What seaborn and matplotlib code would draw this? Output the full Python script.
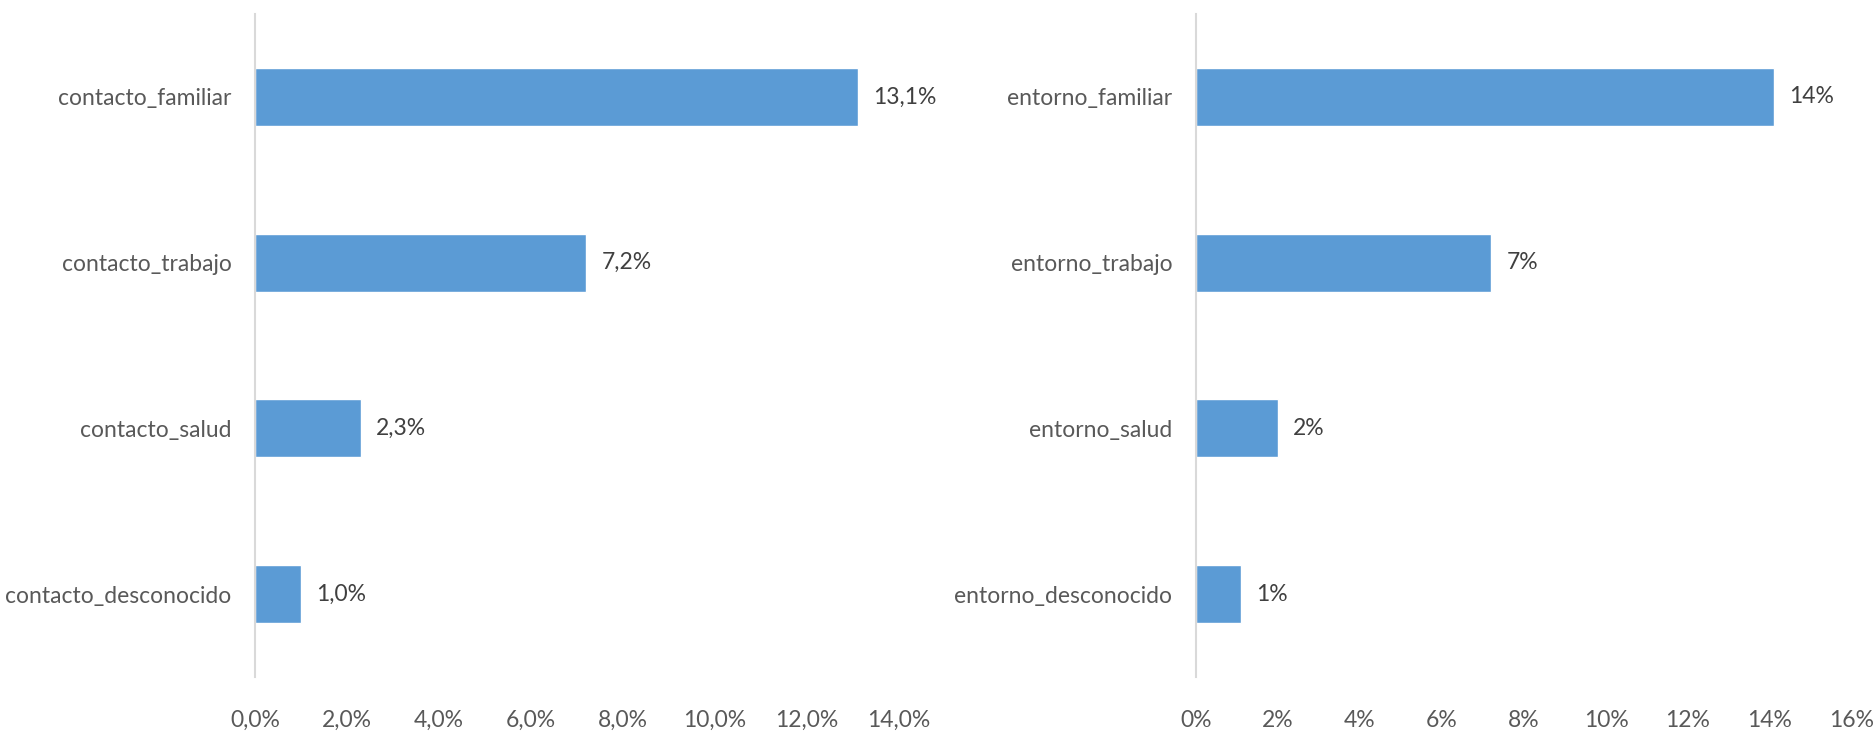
import matplotlib
matplotlib.use("Agg")
import matplotlib.pyplot as plt
import seaborn as sns
import pandas as pd

# Data
cat_left = ["contacto_familiar", "contacto_trabajo", "contacto_salud", "contacto_desconocido"]
val_left = [13.1, 7.2, 2.3, 1.0]
cat_right = ["entorno_familiar", "entorno_trabajo", "entorno_salud", "entorno_desconocido"]
val_right = [14.1, 7.2, 2.0, 1.1]
ticks_left = [0, 2, 4, 6, 8, 10, 12, 14]
ticks_right = [0, 2, 4, 6, 8, 10, 12, 14, 16]

sns.set_theme(style="white")
plt.rcParams['font.family'] = ['Lato', 'DejaVu Sans']

BAR = "#5B9BD5"
TXT = "#595959"
VAL = "#404040"
SPINE = "#D9D9D9"
FS = 16.5

fig = plt.figure(figsize=(18.75, 7.34), dpi=100)
ax1 = fig.add_axes([255/1875, 1-677/734, 644/1875, 663/734])
ax2 = fig.add_axes([1196/1875, 1-677/734, 656/1875, 663/734])


def draw(ax, cats, vals, ticks, fmt_tick, fmt_val):
    df = pd.DataFrame({"cat": cats, "val": vals})
    sns.barplot(data=df, x="val", y="cat", orient="h", color=BAR, width=0.35,
                saturation=1, ax=ax)
    ax.set_xlim(ticks[0], ticks[-1])
    ax.set_ylim(len(cats) - 0.5, -0.5)
    ax.set_xticks(ticks)
    ax.set_xticklabels([fmt_tick(t) for t in ticks])
    ax.set_xlabel("")
    ax.set_ylabel("")
    for s in ["top", "right", "bottom"]:
        ax.spines[s].set_visible(False)
    ax.spines["left"].set_color(SPINE)
    ax.spines["left"].set_linewidth(1.5)
    ax.tick_params(axis="x", length=0, pad=24, labelsize=FS, labelcolor=TXT)
    ax.tick_params(axis="y", length=0, pad=17, labelsize=FS, labelcolor=TXT)
    ax.grid(False)
    for cont in ax.containers:
        ax.bar_label(cont, labels=[fmt_val(v) for v in vals], padding=11,
                     fontsize=FS, color=VAL)


draw(ax1, cat_left, val_left, ticks_left,
     lambda t: f"{t:.1f}%".replace(".", ","),
     lambda v: f"{v:.1f}%".replace(".", ","))
draw(ax2, cat_right, val_right, ticks_right,
     lambda t: f"{t:.0f}%",
     lambda v: f"{v:.0f}%")

fig.savefig("out.png", dpi=100, facecolor="white")
